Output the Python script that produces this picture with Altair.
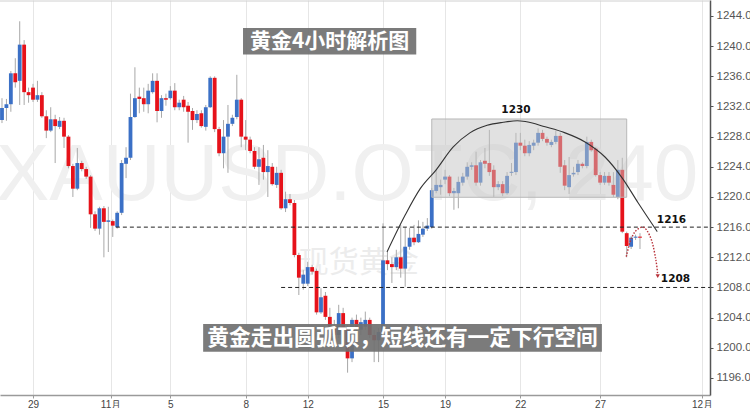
import altair as alt
import pandas as pd

# XAU/USD 4-hour candles, 29 Oct – 28 Nov
opens = [1230.2, 1231.8, 1232.3, 1236.4, 1235.4, 1240.2, 1233.9, 1234.5, 1232.9, 1233.5,
         1230.7, 1228.8, 1230.3, 1229.3, 1230.1, 1228.0, 1224.1, 1221.1, 1224.5, 1223.7,
         1222.7, 1217.7, 1215.8, 1218.5, 1216.7, 1216.8, 1216.0, 1217.9, 1224.4, 1225.2,
         1230.6, 1233.3, 1233.1, 1232.3, 1233.9, 1235.4, 1231.4, 1233.1, 1233.1, 1234.1,
         1231.9, 1232.9, 1232.1, 1231.4, 1230.2, 1231.1, 1229.3, 1231.9, 1235.8, 1229.0,
         1225.8, 1228.0, 1229.7, 1230.6, 1232.9, 1228.0, 1227.6, 1226.1, 1224.0, 1225.2,
         1223.3, 1224.0, 1221.6, 1223.2, 1218.5, 1219.7, 1219.2, 1212.3, 1208.5, 1208.5,
         1210.7, 1210.2, 1204.7, 1206.9, 1204.1, 1202.8, 1201.7, 1204.6, 1202.4, 1198.6,
         1203.7, 1202.4, 1202.8, 1203.7, 1201.7, 1201.0, 1202.1, 1211.6, 1211.1, 1210.7,
         1212.0, 1210.5, 1213.4, 1214.6, 1214.0, 1215.0, 1215.8, 1216.0, 1220.8, 1221.3,
         1222.3, 1222.7, 1220.5, 1220.5, 1221.9, 1222.7, 1224.0, 1224.2, 1221.9, 1224.8,
         1224.5, 1223.6, 1221.3, 1221.7, 1220.5, 1223.2, 1223.3, 1227.2, 1226.8, 1225.8,
         1226.8, 1227.2, 1228.5, 1227.7, 1226.9, 1227.3, 1228.1, 1224.2, 1221.3, 1223.0,
         1223.3, 1224.4, 1224.1, 1227.3, 1226.4, 1222.9, 1221.9, 1222.8, 1221.6, 1220.0,
         1223.6, 1215.2, 1213.4, 1214.6, 1214.7]
highs = [1233.1, 1233.0, 1236.7, 1238.4, 1243.3, 1240.8, 1234.5, 1235.0, 1235.4, 1233.9,
         1231.5, 1231.9, 1230.9, 1230.6, 1230.5, 1228.2, 1224.4, 1226.5, 1224.8, 1224.0,
         1222.9, 1218.1, 1218.7, 1218.8, 1218.7, 1217.0, 1218.1, 1224.9, 1226.6, 1233.7,
         1237.2, 1234.5, 1234.5, 1235.0, 1236.4, 1236.4, 1233.5, 1233.7, 1234.7, 1235.1,
         1232.9, 1233.4, 1232.6, 1231.8, 1231.5, 1231.5, 1232.2, 1236.0, 1236.0, 1229.3,
         1230.2, 1232.2, 1230.9, 1236.2, 1233.1, 1230.2, 1228.0, 1226.6, 1226.6, 1226.9,
         1226.2, 1224.5, 1224.0, 1223.6, 1220.7, 1220.4, 1219.6, 1212.6, 1210.3, 1211.4,
         1211.0, 1210.5, 1207.9, 1207.4, 1205.3, 1203.7, 1205.7, 1205.3, 1203.0, 1204.0,
         1204.4, 1204.0, 1204.8, 1204.0, 1202.4, 1202.6, 1216.5, 1212.7, 1212.0, 1213.0,
         1216.3, 1216.0, 1215.9, 1216.3, 1216.9, 1216.7, 1217.2, 1221.2, 1223.6, 1222.3,
         1223.6, 1222.9, 1221.2, 1222.7, 1223.2, 1224.6, 1224.6, 1226.0, 1224.9, 1226.5,
         1228.9, 1224.2, 1222.1, 1222.1, 1223.3, 1224.5, 1228.5, 1228.5, 1227.6, 1227.4,
         1227.6, 1229.1, 1228.9, 1228.0, 1227.6, 1228.8, 1228.5, 1224.9, 1225.3, 1224.0,
         1224.9, 1224.6, 1228.0, 1227.6, 1226.6, 1223.3, 1223.3, 1223.3, 1223.3, 1224.9,
         1225.2, 1215.4, 1214.8, 1215.0, 1215.2]
lows = [1229.8, 1230.1, 1231.3, 1234.5, 1232.2, 1232.2, 1232.5, 1232.6, 1232.6, 1230.5,
        1227.8, 1228.6, 1224.5, 1229.0, 1226.5, 1223.8, 1220.0, 1220.9, 1223.4, 1222.4,
        1215.9, 1215.5, 1215.0, 1212.0, 1212.7, 1214.7, 1215.8, 1217.6, 1222.5, 1224.9,
        1230.5, 1231.1, 1231.3, 1231.1, 1233.7, 1229.9, 1230.5, 1232.1, 1232.9, 1231.5,
        1231.5, 1231.3, 1227.2, 1228.9, 1229.8, 1229.2, 1228.8, 1231.8, 1228.6, 1225.4,
        1223.8, 1223.2, 1229.4, 1230.3, 1226.6, 1226.2, 1225.8, 1223.7, 1221.6, 1222.3,
        1220.0, 1221.5, 1221.2, 1218.3, 1218.0, 1218.9, 1212.0, 1207.0, 1207.7, 1208.2,
        1209.7, 1204.4, 1204.5, 1203.7, 1202.4, 1201.0, 1201.3, 1201.7, 1196.7, 1198.1,
        1202.0, 1201.7, 1202.4, 1201.3, 1198.1, 1198.1, 1201.6, 1210.3, 1208.6, 1210.3,
        1209.3, 1208.1, 1213.0, 1213.6, 1213.9, 1214.7, 1215.5, 1215.8, 1220.5, 1220.3,
        1221.7, 1220.1, 1218.3, 1218.5, 1221.5, 1222.3, 1223.6, 1221.5, 1221.5, 1223.8,
        1222.8, 1220.0, 1220.9, 1220.1, 1220.3, 1222.8, 1222.9, 1226.2, 1225.4, 1225.4,
        1226.2, 1226.8, 1227.4, 1226.8, 1226.6, 1227.0, 1223.2, 1220.9, 1220.4, 1222.7,
        1222.9, 1223.8, 1223.8, 1226.0, 1222.7, 1221.6, 1221.6, 1221.5, 1220.0, 1219.7,
        1215.2, 1212.0, 1213.1, 1214.3, 1213.1]
closes = [1231.8, 1232.3, 1236.4, 1235.2, 1240.2, 1233.9, 1233.5, 1232.9, 1233.5, 1230.7,
          1228.8, 1230.3, 1229.4, 1230.1, 1228.0, 1224.1, 1221.1, 1224.5, 1223.7, 1222.7,
          1217.7, 1215.8, 1218.5, 1216.7, 1216.9, 1216.2, 1217.9, 1224.5, 1225.2, 1230.6,
          1233.1, 1233.0, 1232.3, 1234.1, 1235.4, 1231.4, 1233.1, 1232.9, 1234.1, 1231.9,
          1232.5, 1231.9, 1231.3, 1230.2, 1231.0, 1229.4, 1231.9, 1235.8, 1229.0, 1225.8,
          1228.0, 1229.7, 1230.5, 1232.9, 1228.0, 1227.6, 1226.1, 1224.0, 1225.0, 1223.3,
          1224.1, 1221.7, 1223.2, 1218.5, 1219.7, 1219.2, 1212.3, 1209.3, 1209.7, 1210.7,
          1210.1, 1204.7, 1206.7, 1204.1, 1202.8, 1201.7, 1204.6, 1202.4, 1198.6, 1203.7,
          1202.4, 1203.4, 1203.7, 1201.7, 1201.0, 1202.1, 1211.6, 1211.1, 1210.7, 1212.0,
          1210.5, 1213.4, 1214.6, 1214.0, 1215.1, 1215.8, 1216.2, 1220.9, 1221.6, 1221.6,
          1222.7, 1220.5, 1220.8, 1222.0, 1222.7, 1224.0, 1224.2, 1221.9, 1224.6, 1224.4,
          1223.3, 1221.3, 1221.7, 1220.5, 1222.8, 1223.3, 1227.2, 1226.8, 1225.8, 1226.9,
          1227.2, 1228.5, 1227.7, 1227.2, 1227.3, 1228.1, 1224.0, 1221.5, 1222.9, 1223.2,
          1224.4, 1224.1, 1227.3, 1226.2, 1222.9, 1221.9, 1222.8, 1221.9, 1220.3, 1223.6,
          1215.4, 1213.5, 1214.6, 1214.7, 1214.6]

# date ticks (bar index -> label)
tick_pos = [7, 24.5, 38, 55, 69, 86, 100, 117, 135, 158]
tick_text = ["29", "11月", "5", "8", "12", "15", "19", "22", "27", "12月"]
price_ticks = list(range(1196, 1245, 4))

# rounded-top arc sketched over the rally and roll-over
arc_i = [86.9, 91.0, 94.4, 98.0, 101.8, 105.6, 109.5, 113.1, 116.3, 118.1,
         122.6, 127.1, 131.6, 136.1, 140.0, 143.6, 147.9]
arc_p = [1212.7, 1217.6, 1221.1, 1223.6, 1226.6, 1228.5, 1229.5, 1229.9, 1230.1, 1230.0,
         1229.3, 1228.5, 1227.3, 1225.3, 1222.5, 1219.2, 1215.4]

# projected path: bounce to 1216 then down toward 1208
path_i = [140.9, 141.8, 142.9, 144.4, 145.5, 146.7, 147.6, 148.0]
path_p = [1212.1, 1214.1, 1215.4, 1216.0, 1215.6, 1214.1, 1211.6, 1209.7]

# key levels
levels = [1216, 1208]
level_start = [25.7, 63.0]

X_DOMAIN = [-0.45, 159.8]
Y_DOMAIN = [1193.74, 1246.12]
xs = alt.Scale(domain=X_DOMAIN, nice=False, zero=False)
ys = alt.Scale(domain=Y_DOMAIN, nice=False, zero=False)

candles = pd.DataFrame({"i": range(len(opens)), "open": opens, "high": highs,
                        "low": lows, "close": closes})

label_expr = "''"
for pos, txt in reversed(list(zip(tick_pos, tick_text))):
    label_expr = f"datum.value == {pos} ? '{txt}' : ({label_expr})"

x_axis = alt.Axis(values=tick_pos, labelExpr=label_expr, grid=True, gridColor="#e6e6e6",
                  gridWidth=1, domainColor="#9a9a9a", domainWidth=1.5, tickColor="#9a9a9a",
                  tickSize=3, labelColor="#444", labelFontSize=10, labelFont="Liberation Sans",
                  labelPadding=1, title=None)
y_axis = alt.Axis(orient="right", values=price_ticks, format=".2f", grid=False,
                  domainColor="#555", domainWidth=1.5, tickColor="#555", tickSize=3,
                  labelColor="#555", labelFontSize=11.5, labelFont="Liberation Sans",
                  labelPadding=3, title=None)


def X(field):
    return alt.X(field, type="quantitative", scale=xs, axis=x_axis)


def Y(field):
    return alt.Y(field, type="quantitative", scale=ys, axis=y_axis)


CJK = "Noto Sans CJK SC"

# faint watermarks
wm = pd.DataFrame({"i": [77.9], "p": [1219.6], "t": ["XAUUSD.OTC, 240"]})
watermark = alt.Chart(wm).mark_text(fontSize=80, font="Liberation Sans", color="#f0f0f0",
                                     baseline="alphabetic", align="center").encode(
    x=X("i"), y=Y("p"), text="t:N")
wm2 = pd.DataFrame({"i": [80.5], "p": [1211.3], "t": ["现货黄金"]})
watermark2 = alt.Chart(wm2).mark_text(fontSize=30, font=CJK, color="#ececec").encode(
    x=X("i"), y=Y("p"), text="t:N")

top_line = alt.Chart(pd.DataFrame({"a": [0]})).mark_rule(color="#d0d0d0", strokeWidth=1).encode(
    x=alt.value(0), x2=alt.value(710), y=alt.value(1))

base = alt.Chart(candles)
wicks = base.mark_rule(color="#a8a8a8", strokeWidth=1).encode(
    x=X("i"), y=Y("low"), y2="high:Q")
bodies = base.transform_calculate(
    x0="datum.i - 0.43", x1="datum.i + 0.43",
    lo="min(datum.open, datum.close)",
    hi="max(max(datum.open, datum.close), min(datum.open, datum.close) + 0.14)",
    dir="datum.close >= datum.open ? 'up' : 'down'",
).mark_rect().encode(
    x=X("x0"), x2="x1:Q", y=Y("lo"), y2="hi:Q",
    color=alt.Color("dir:N", scale=alt.Scale(domain=["up", "down"],
                                             range=["#3b70c6", "#e6121a"]), legend=None))

# shaded topping zone
zone = alt.Chart(pd.DataFrame({"a": [97.0], "b": [141.0], "lo": [1219.96], "hi": [1230.34]})).mark_rect(
    fill="#c4c4c4", fillOpacity=0.5, stroke="#b8b8b8", strokeWidth=1).encode(
    x=X("a"), x2="b:Q", y=Y("lo"), y2="hi:Q")

lv = pd.DataFrame({"p": levels, "s": level_start, "e": [X_DOMAIN[1]] * 2})
level_lines = alt.Chart(lv).mark_rule(color="#222", strokeWidth=1, strokeDash=[4, 3]).encode(
    x=X("s"), x2="e:Q", y=Y("p"))

arc = alt.Chart(pd.DataFrame({"i": arc_i, "p": arc_p})).mark_line(
    color="#333", strokeWidth=1.1, interpolate="monotone").encode(
    x=X("i"), y=Y("p"), order="i:Q")

path = alt.Chart(pd.DataFrame({"i": path_i, "p": path_p})).mark_line(
    color="#b8323a", strokeWidth=1.4, strokeDash=[1.5, 1.5], interpolate="cardinal").encode(
    x=X("i"), y=Y("p"), order="i:Q")
arrow = alt.Chart(pd.DataFrame({"i": [path_i[-1]], "p": [path_p[-1] - 0.2]})).mark_point(
    shape="triangle-down", filled=True, size=18, color="#b8323a", opacity=1).encode(
    x=X("i"), y=Y("p"))

marks = pd.DataFrame({"i": [116.0, 151.1, 152.0], "p": [1231.5, 1217.0, 1209.1],
                      "t": ["1230", "1216", "1208"]})
level_labels = alt.Chart(marks).mark_text(fontSize=10.5, fontWeight="bold", font="DejaVu Sans",
                                          color="#111").encode(
    x=X("i"), y=Y("p"), text="t:N")

# caption banners
banners = pd.DataFrame({"a": [54.4, 45.4], "b": [93.5, 135.4],
                        "lo": [1238.89, 1199.49], "hi": [1242.41, 1203.16]})
banner_boxes = alt.Chart(banners).mark_rect(fill="#707070", fillOpacity=0.92).encode(
    x=X("a"), x2="b:Q", y=Y("lo"), y2="hi:Q")
captions = pd.DataFrame({"i": [73.95, 90.4], "p": [1240.6, 1201.3],
                         "t": ["黄金4小时解析图", "黄金走出圆弧顶，短线还有一定下行空间"],
                         "s": [21, 21.7]})
caption_text = alt.Chart(captions).mark_text(font=CJK, fontWeight="bold", color="white").encode(
    x=X("i"), y=Y("p"), text="t:N",
    size=alt.Size("s:Q", scale=None, legend=None))

chart = alt.layer(
    watermark, watermark2, top_line, wicks, bodies, zone, level_lines, arc, path, arrow,
    level_labels, banner_boxes, caption_text
).properties(
    width=710, height=395,
    padding={"left": 0, "top": 0, "right": 40, "bottom": 13},
    autosize=alt.AutoSizeParams(type="none"),
    background="white",
).configure_view(stroke=None)

chart.save("out.html", embed_options={"renderer": "svg", "actions": False})
